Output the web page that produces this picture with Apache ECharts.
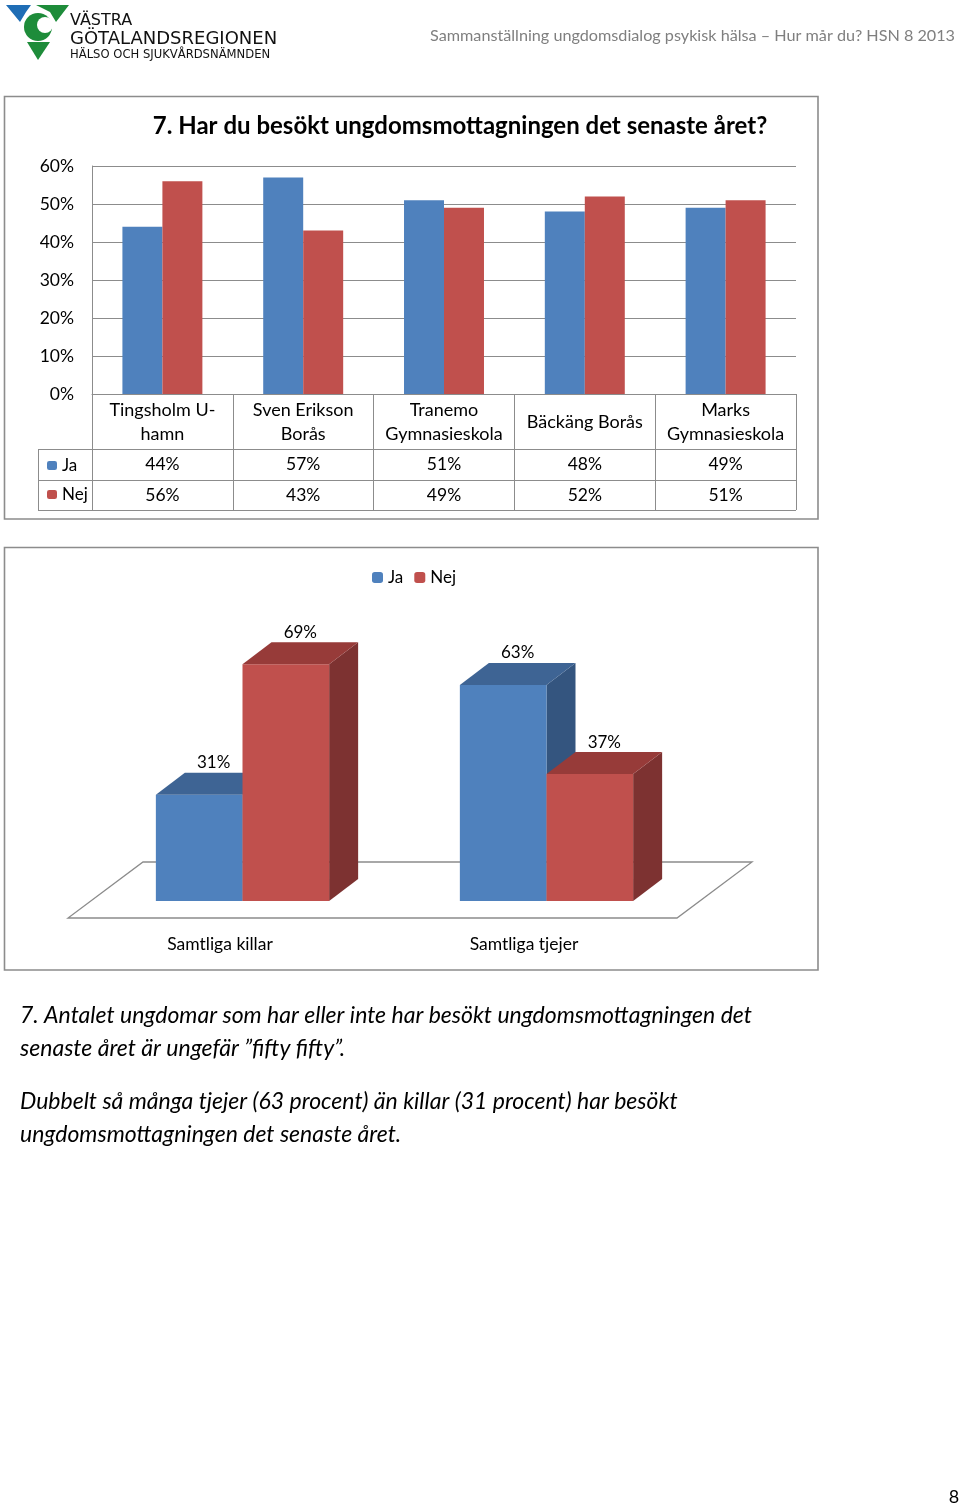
<!DOCTYPE html>
<html>
<head>
<meta charset="utf-8">
<script src="https://cdn.jsdelivr.net/npm/echarts@6/dist/echarts.min.js"></script>
<style>
html,body{margin:0;padding:0;background:#fff;}
#main{width:960px;height:1506px;}
</style>
</head>
<body>
<div id="main"></div>
<script>
// ---------- data ----------
const schools = ['Tingsholm U-\nhamn', 'Sven Erikson\nBorås', 'Tranemo\nGymnasieskola', 'Bäckäng Borås', 'Marks\nGymnasieskola'];
const jaSchool = [44, 57, 51, 48, 49];
const nejSchool = [56, 43, 49, 52, 51];
const yTicks = [0, 10, 20, 30, 40, 50, 60];
const groups = ['Samtliga killar', 'Samtliga tjejer'];
const jaGroup = [31, 63];
const nejGroup = [69, 37];
const seriesNames = ['Ja', 'Nej'];
const title1 = '7. Har du besökt ungdomsmottagningen det senaste året?';
const headerText = 'Sammanställning ungdomsdialog psykisk hälsa – Hur mår du? HSN 8 2013';
const para1 = ['7. Antalet ungdomar som har eller inte har besökt ungdomsmottagningen det', 'senaste året är ungefär ”fifty fifty”.'];
const para2 = ['Dubbelt så många tjejer (63 procent) än killar (31 procent) har besökt', 'ungdomsmottagningen det senaste året.'];
const pageNo = '8';

// ---------- style ----------
const FONT = 'Lato, "Open Sans", sans-serif';
const BLUE = '#4F81BD', RED = '#C0504D';
const BLUE_TOP = '#3E6494', BLUE_SIDE = '#34557F';
const RED_TOP = '#973B39', RED_SIDE = '#7D3231';
const GRID = '#8C8C8C';

const chart = echarts.init(document.getElementById('main'));

function bar3d(which, front, topC, side) {
  return function (params, api) {
    const cat = api.value(0), v = api.value(1);
    const base = api.coord([cat, 0]);
    const top = api.coord([cat, v]);
    const band = api.size([1, 0])[0];
    const bw = band * 0.285;
    const x0 = base[0] + (which === 0 ? -bw : 0);
    const x1 = x0 + bw;
    const yb = base[1], yt = top[1];
    const dx = 29, dy = -22;
    return {
      type: 'group',
      children: [
        { type: 'polygon', shape: { points: [[x1, yt], [x1 + dx, yt + dy], [x1 + dx, yb + dy], [x1, yb]] }, style: { fill: side } },
        { type: 'rect', shape: { x: x0, y: yt, width: bw, height: yb - yt }, style: { fill: front } },
        { type: 'polygon', shape: { points: [[x0, yt], [x0 + dx, yt + dy], [x1 + dx, yt + dy], [x1, yt]] }, style: { fill: topC } },
        { type: 'text', x: x0 + bw / 2 + dx / 2, y: yt + dy - 10, style: { text: v + '%', fill: '#000', font: '17px ' + FONT, textAlign: 'center', textVerticalAlign: 'middle' }, z2: 10 }
      ]
    };
  };
}

function floorRender(params, api) {
  const cs = params.coordSys;
  const bottom = cs.y + cs.height;
  const fy = bottom + 17;
  const fl = cs.x - 22.5, fr = cs.x + cs.width - 21.5;
  const ddx = 75, ddy = -56;
  return {
    type: 'polygon',
    shape: { points: [[fl, fy], [fr, fy], [fr + ddx, fy + ddy], [fl + ddx, fy + ddy]] },
    style: { fill: '#fff', stroke: GRID, lineWidth: 1.3 }
  };
}

const option = {
  backgroundColor: '#fff',
  animation: false,
  textStyle: { fontFamily: FONT },
  grid: [
    { left: 92, top: 166, width: 704, height: 228 },
    { left: 90.5, top: 626.6, width: 608, height: 274.4 }
  ],
  legend: [
    { data: seriesNames, orient: 'vertical', left: 42, top: 452, itemWidth: 10, itemHeight: 9, itemGap: 12, selectedMode: false,
      textStyle: { fontSize: 17, color: '#000', fontFamily: FONT, padding: [0, 0, 0, 0] } },
    { data: seriesNames, orient: 'horizontal', left: 367, top: 564, itemWidth: 11, itemHeight: 11, itemGap: 11, selectedMode: false,
      textStyle: { fontSize: 17, color: '#000', fontFamily: FONT } }
  ],
  xAxis: [
    { type: 'category', gridIndex: 0, data: schools, position: 'bottom',
      axisLine: { show: true, lineStyle: { color: GRID, width: 1 } },
      axisTick: { show: true, length: 116, inside: false, lineStyle: { color: GRID, width: 1 } },
      axisLabel: { interval: 0, color: '#000', fontSize: 18, lineHeight: 24, margin: 28, verticalAlign: 'middle', fontFamily: FONT } },
    { type: 'category', gridIndex: 0, data: schools, position: 'bottom',
      axisLine: { show: false }, axisTick: { show: false },
      axisLabel: { interval: 0, color: '#000', fontSize: 17.5, margin: 70.5, verticalAlign: 'middle', fontFamily: FONT,
        formatter: (v, i) => jaSchool[i] + '%' } },
    { type: 'category', gridIndex: 0, data: schools, position: 'bottom',
      axisLine: { show: false }, axisTick: { show: false },
      axisLabel: { interval: 0, color: '#000', fontSize: 17.5, margin: 101.5, verticalAlign: 'middle', fontFamily: FONT,
        formatter: (v, i) => nejSchool[i] + '%' } },
    { type: 'category', gridIndex: 1, data: groups, position: 'bottom',
      axisLine: { show: false }, axisTick: { show: false },
      axisLabel: { interval: 0, color: '#000', fontSize: 17.5, margin: 43, verticalAlign: 'middle', fontFamily: FONT, padding: [0, 45, 0, 0] } }
  ],
  yAxis: [
    { type: 'value', gridIndex: 0, min: 0, max: 60, interval: 10,
      axisLine: { show: true, lineStyle: { color: GRID } }, axisTick: { show: false },
      splitLine: { show: true, lineStyle: { color: GRID, width: 1 } },
      axisLabel: { formatter: '{value}%', color: '#000', fontSize: 17.5, margin: 18, fontFamily: FONT, padding: [3, 0, 0, 0] } },
    { type: 'value', gridIndex: 1, min: 0, max: 80, show: false }
  ],
  series: [
    { name: 'Ja', type: 'bar', xAxisIndex: 0, yAxisIndex: 0, data: jaSchool, barWidth: '28.4%', barGap: '0%', itemStyle: { color: BLUE } },
    { name: 'Nej', type: 'bar', xAxisIndex: 0, yAxisIndex: 0, data: nejSchool, barWidth: '28.4%', barGap: '0%', itemStyle: { color: RED } },
    { name: 'floor', type: 'custom', xAxisIndex: 3, yAxisIndex: 1, data: [[0, 0]], renderItem: floorRender, z: 1, silent: true },
    { name: 'Ja', type: 'custom', xAxisIndex: 3, yAxisIndex: 1, z: 2, itemStyle: { color: BLUE },
      data: jaGroup.map((v, i) => [i, v]), encode: { x: 0, y: 1 }, renderItem: bar3d(0, BLUE, BLUE_TOP, BLUE_SIDE) },
    { name: 'Nej', type: 'custom', xAxisIndex: 3, yAxisIndex: 1, z: 2, itemStyle: { color: RED },
      data: nejGroup.map((v, i) => [i, v]), encode: { x: 0, y: 1 }, renderItem: bar3d(1, RED, RED_TOP, RED_SIDE) }
  ],
  graphic: [
    // chart frames
    { type: 'rect', shape: { x: 4.5, y: 96.5, width: 813.5, height: 422.5 }, style: { fill: 'none', stroke: '#8C8C8C', lineWidth: 1.6 }, z: -1 },
    { type: 'rect', shape: { x: 4.5, y: 547.5, width: 813.5, height: 422.5 }, style: { fill: 'none', stroke: '#8C8C8C', lineWidth: 1.6 }, z: -1 },
    // data table lines
    { type: 'line', shape: { x1: 38, y1: 449.5, x2: 796, y2: 449.5 }, style: { stroke: GRID, lineWidth: 1 } },
    { type: 'line', shape: { x1: 38, y1: 480.5, x2: 796, y2: 480.5 }, style: { stroke: GRID, lineWidth: 1 } },
    { type: 'line', shape: { x1: 38, y1: 510.5, x2: 796, y2: 510.5 }, style: { stroke: GRID, lineWidth: 1 } },
    { type: 'line', shape: { x1: 38.5, y1: 449.5, x2: 38.5, y2: 510.5 }, style: { stroke: GRID, lineWidth: 1 } },
    // title
    { type: 'text', x: 460, y: 126, style: { text: title1, font: 'bold 24px ' + FONT, fill: '#000', textAlign: 'center', textVerticalAlign: 'middle' } },
    // header
    { type: 'text', x: 955, y: 36, style: { text: headerText, font: '16.2px ' + FONT, fill: '#7F7F7F', textAlign: 'right', textVerticalAlign: 'middle' } },
    // logo
    { type: 'polygon', shape: { points: [[6, 5], [31, 5], [26, 12], [20, 22]] }, style: { fill: '#1F6DB5' } },
    { type: 'polygon', shape: { points: [[36, 5], [69, 5], [56, 22], [50, 12]] }, style: { fill: '#1E8C3A' } },
    { type: 'circle', shape: { cx: 38, cy: 27, r: 14 }, style: { fill: '#1E8C3A' } },
    { type: 'circle', shape: { cx: 45, cy: 25, r: 8 }, style: { fill: '#fff' } },
    { type: 'polygon', shape: { points: [[27, 42], [50, 42], [38, 60]] }, style: { fill: '#1E8C3A' } },
    { type: 'text', x: 70, y: 21, style: { text: 'VÄSTRA', font: '16px "DejaVu Sans", sans-serif', fill: '#111', textVerticalAlign: 'middle' } },
    { type: 'text', x: 70, y: 39, style: { text: 'GÖTALANDSREGIONEN', font: '18px "DejaVu Sans", sans-serif', fill: '#111', textVerticalAlign: 'middle' } },
    { type: 'text', x: 70, y: 55, style: { text: 'HÄLSO OCH SJUKVÅRDSNÄMNDEN', font: '11.6px "DejaVu Sans", sans-serif', fill: '#111', textVerticalAlign: 'middle' } },
    // paragraphs
    { type: 'text', x: 20, y: 1016, style: { text: para1[0], font: 'italic 23px ' + FONT, fill: '#000', textVerticalAlign: 'middle' } },
    { type: 'text', x: 20, y: 1049, style: { text: para1[1], font: 'italic 23px ' + FONT, fill: '#000', textVerticalAlign: 'middle' } },
    { type: 'text', x: 20, y: 1102, style: { text: para2[0], font: 'italic 23px ' + FONT, fill: '#000', textVerticalAlign: 'middle' } },
    { type: 'text', x: 20, y: 1135, style: { text: para2[1], font: 'italic 23px ' + FONT, fill: '#000', textVerticalAlign: 'middle' } },
    // page number
    { type: 'text', x: 954, y: 1497, style: { text: pageNo, font: '18px ' + FONT, fill: '#000', textAlign: 'center', textVerticalAlign: 'middle' } }
  ]
};
chart.setOption(option);
</script>
</body>
</html>
